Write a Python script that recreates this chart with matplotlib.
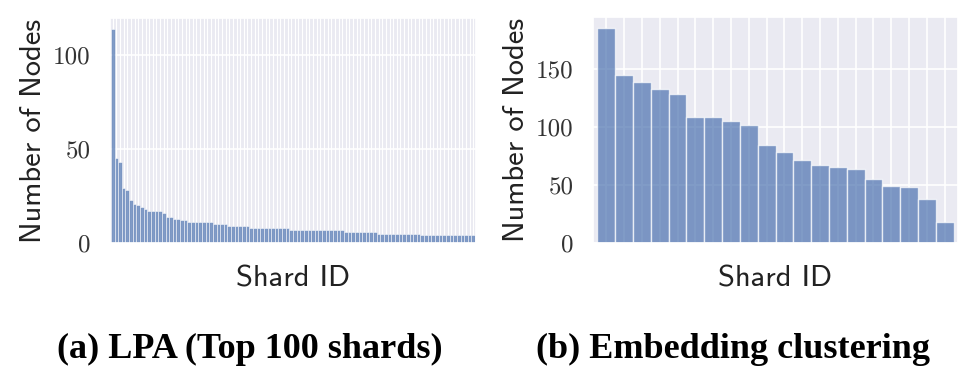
import numpy as np
import matplotlib
matplotlib.use('Agg')
import matplotlib.pyplot as plt
import seaborn as sns

# LPA, top 100 shards (sorted sizes)
lpa_sizes = ([114, 45, 43, 29, 28, 23, 21, 20, 19, 18,
              17, 17, 17, 17, 16, 14, 14, 13, 13, 12, 12]
             + [11] * 7 + [10] * 4 + [9] * 6 + [8] * 11
             + [7] * 15 + [6] * 9 + [5] * 12 + [4] * 15)
# embedding clustering, 20 shards
emb_sizes = [186, 145, 139, 133, 129, 109, 109, 105, 102, 85,
             79, 72, 67, 66, 64, 55, 49, 48, 38, 18]

lpa_ticks = [0, 50, 100]
emb_ticks = [0, 50, 100, 150]
captions = ['(a) LPA (Top 100 shards)', '(b) Embedding clustering']

sns.set_theme(style='darkgrid')
blue = sns.color_palette('deep')[0]

fig = plt.figure(figsize=(9.7, 3.76), dpi=100)
ax1 = fig.add_axes([110/970, 1-243/376, 366/970, 225/376])
ax2 = fig.add_axes([593/970, 1-243/376, 365/970, 226/376])


def draw(ax, vals, yticks, lw, gridlw):
    x = np.arange(len(vals))
    ax.bar(x, vals, width=1.0, color=blue, alpha=0.7,
           edgecolor='white', linewidth=lw, zorder=2)
    ax.set_xlim(-0.75, len(vals) - 0.25)
    ax.set_ylim(0, max(vals) * 1.05)
    ax.set_xticks(x)
    ax.set_xticklabels([])
    ax.set_yticks(yticks)
    ax.set_yticklabels([str(t) for t in yticks], family='cmr10',
                       fontsize=18, color='#333333')
    ax.tick_params(length=0, pad=14)
    ax.grid(True, axis='x', color='white', linewidth=gridlw)
    ax.grid(True, axis='y', color='white', linewidth=1.2)
    ax.set_axisbelow(True)
    ax.set_xlabel('Shard ID', family='cmss10', fontsize=22,
                  color='#222222', labelpad=2)
    ax.set_ylabel('Number of Nodes', family='cmss10', fontsize=22,
                  color='#222222', labelpad=4)


draw(ax1, lpa_sizes, lpa_ticks, 0.5, 0.8)
draw(ax2, emb_sizes, emb_ticks, 1.0, 1.2)

fig.text(250/970, 1-349/376, captions[0], ha='center', va='center',
         family='Liberation Serif', weight='bold', fontsize=26,
         color='black')
fig.text(733/970, 1-349/376, captions[1], ha='center', va='center',
         family='Liberation Serif', weight='bold', fontsize=26,
         color='black')

fig.savefig('out.png', dpi=100)
